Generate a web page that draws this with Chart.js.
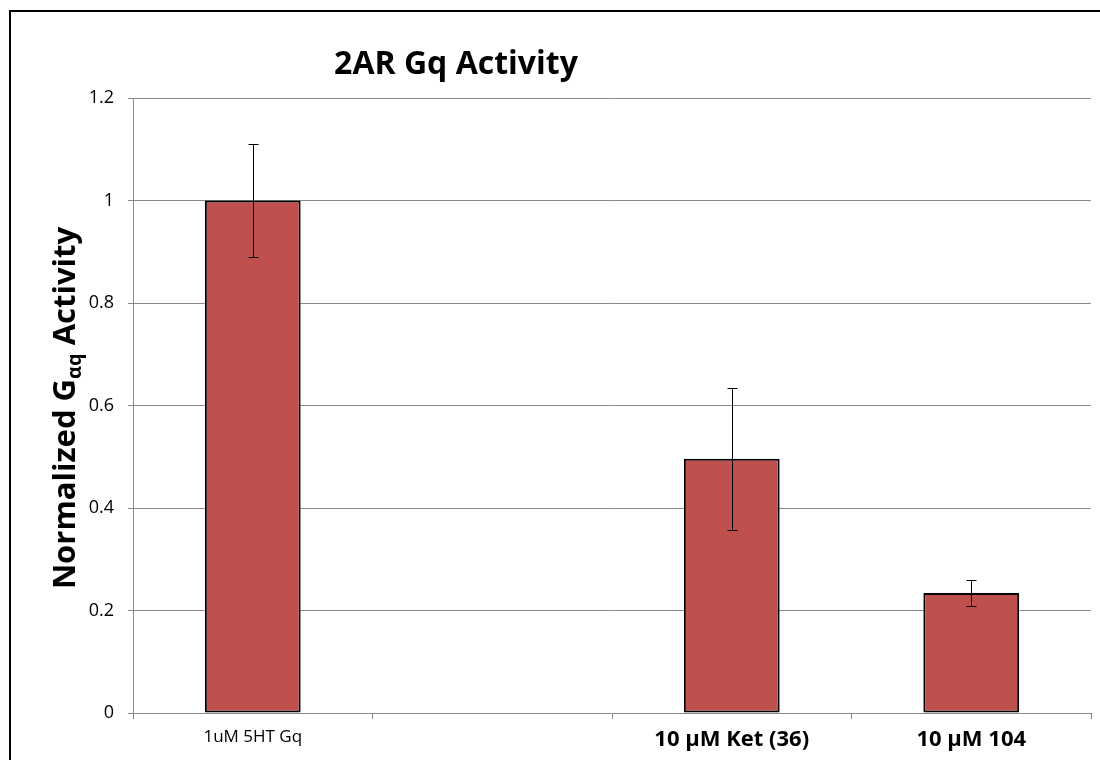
<!DOCTYPE html>
<html>
<head>
<meta charset="utf-8">
<script src="https://cdn.jsdelivr.net/npm/chart.js@4"></script>
<style>
  html, body { margin: 0; padding: 0; background: #fff; }
  #c { display: block; }
</style>
</head>
<body>
<canvas id="c" width="1100" height="760"></canvas>
<script>
// Categories along the x axis (the second slot is intentionally blank)
const categories = ["1uM 5HT Gq", "", "10 \u00b5M Ket (36)", "10 \u00b5M 104"];
// Normalized Gaq activity per condition
const activity = [1.0, null, 0.496, 0.234];
// Symmetric error (+/-) per condition
const errors = [0.111, null, 0.139, 0.025];
// Y axis range and step
const yTicks = { min: 0, max: 1.2, step: 0.2 };

const chartTitle = "2AR Gq Activity";
const yTitleMain = "Normalized G";
const yTitleSub = "\u03b1q";
const yTitleTail = " Activity";

const FONT = '"Open Sans", "Noto Sans", sans-serif';
const GRID = '#8a8a8a';

// Error bars drawn through the value scale
const errorBars = {
  id: 'errorBars',
  afterDatasetsDraw(chart) {
    const { ctx, scales: { y } } = chart;
    const meta = chart.getDatasetMeta(0);
    ctx.save();
    ctx.strokeStyle = '#000';
    ctx.lineWidth = 1;
    meta.data.forEach((bar, i) => {
      const v = activity[i], e = errors[i];
      if (v == null || e == null) return;
      const cx = Math.round(bar.x) + 0.5;
      const yt = Math.round(y.getPixelForValue(v + e)) + 0.5;
      const yb = Math.round(y.getPixelForValue(v - e)) + 0.5;
      const cap = 5;
      ctx.beginPath();
      ctx.moveTo(cx, yt); ctx.lineTo(cx, yb);
      ctx.moveTo(cx - cap, yt); ctx.lineTo(cx + cap, yt);
      ctx.moveTo(cx - cap, yb); ctx.lineTo(cx + cap, yb);
      ctx.stroke();
    });
    ctx.restore();
  }
};

// Frame, chart title and the y-axis title with subscript
const decorations = {
  id: 'decorations',
  beforeDraw(chart) {
    const { ctx } = chart;
    ctx.save();
    ctx.fillStyle = '#fff';
    ctx.fillRect(0, 0, chart.width, chart.height);
    ctx.restore();
  },
  afterDraw(chart) {
    const { ctx } = chart;
    ctx.save();
    // outer frame
    ctx.strokeStyle = '#000';
    ctx.lineWidth = 2;
    ctx.strokeRect(10, 11, 1200, 1000);

    // title
    ctx.fillStyle = '#000';
    ctx.font = `bold 32px ${FONT}`;
    ctx.textAlign = 'center';
    ctx.textBaseline = 'alphabetic';
    ctx.fillText(chartTitle, 456, 74);

    // rotated y title
    const mainFont = `bold 31px ${FONT}`;
    const subFont = `bold 20px ${FONT}`;
    ctx.font = mainFont;
    const w1 = ctx.measureText(yTitleMain).width;
    const w3 = ctx.measureText(yTitleTail).width;
    ctx.font = subFont;
    const w2 = ctx.measureText(yTitleSub).width;
    const total = w1 + w2 + w3;
    ctx.translate(75, 408);
    ctx.rotate(-Math.PI / 2);
    ctx.textAlign = 'left';
    let px = -total / 2;
    ctx.font = mainFont;
    ctx.fillText(yTitleMain, px, 0);
    px += w1;
    ctx.font = subFont;
    ctx.fillText(yTitleSub, px, 6);
    px += w2;
    ctx.font = mainFont;
    ctx.fillText(yTitleTail, px, 0);
    ctx.restore();
  }
};

new Chart(document.getElementById('c'), {
  type: 'bar',
  data: {
    labels: categories,
    datasets: [{
      data: activity,
      backgroundColor: '#c0504d',
      borderColor: '#000',
      borderWidth: 2,
      borderSkipped: false,
      categoryPercentage: 1.0,
      barPercentage: 0.4
    }]
  },
  options: {
    responsive: false,
    devicePixelRatio: 1,
    animation: false,
    layout: { padding: { top: 98, right: 9, bottom: 0, left: 0 } },
    plugins: {
      legend: { display: false },
      title: { display: false },
      tooltip: { enabled: false }
    },
    scales: {
      x: {
        afterFit(scale) { scale.height = 47; },
        grid: {
          offset: true,
          drawOnChartArea: false,
          drawTicks: true,
          tickLength: 6,
          color: GRID
        },
        border: { color: GRID, width: 1 },
        ticks: {
          color: '#000',
          padding: 8,
          maxRotation: 0,
          font: (c) => c.index === 0
            ? { family: FONT, size: 17, weight: 'normal' }
            : { family: FONT, size: 22, weight: 'bold' }
        }
      },
      y: {
        min: yTicks.min,
        max: yTicks.max,
        afterFit(scale) { scale.width = 133; },
        grid: {
          color: GRID,
          drawTicks: true,
          tickLength: 5,
          tickColor: GRID
        },
        border: { color: GRID, width: 1 },
        ticks: {
          stepSize: yTicks.step,
          color: '#000',
          padding: 14,
          font: { family: FONT, size: 18 },
          callback: (v) => String(Math.round(v * 10) / 10)
        }
      }
    }
  },
  plugins: [errorBars, decorations]
});
</script>
</body>
</html>
